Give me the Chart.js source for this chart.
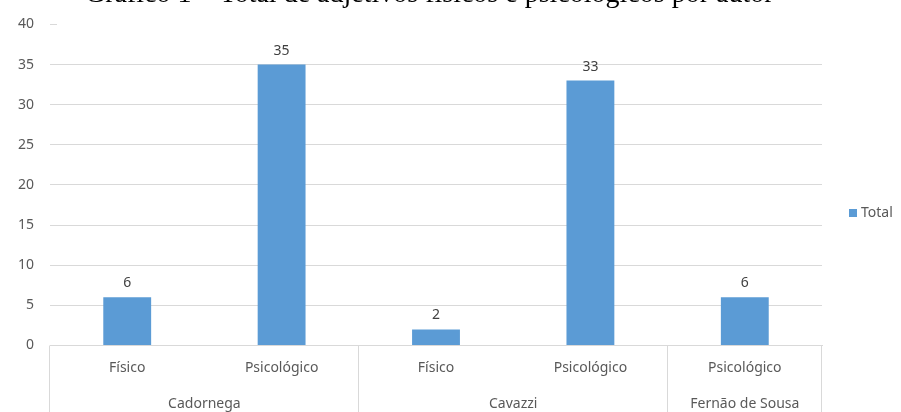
<!DOCTYPE html>
<html>
<head>
<meta charset="utf-8">
<script src="https://cdn.jsdelivr.net/npm/chart.js@4/dist/chart.umd.min.js"></script>
<style>
  html, body { margin: 0; padding: 0; background: #ffffff; }
  #wrap { width: 901px; height: 412px; position: relative; }
</style>
</head>
<body>
<div id="wrap"><canvas id="chart" width="901" height="412"></canvas></div>
<script>
// Adjective type counts per author
const subLabels = ['Físico', 'Psicológico', 'Físico', 'Psicológico', 'Psicológico'];
const groupNames = ['Cadornega', 'Cavazzi', 'Fernão de Sousa'];
const groupSizes = [2, 2, 1];
const totals = [6, 35, 2, 33, 6];
const yTicks = [0, 5, 10, 15, 20, 25, 30, 35, 40];
const seriesName = 'Total';
const titleText = 'Gráfico 1 – Total de adjetivos físicos e psicológicos por autor';

const FONT = '"Noto Sans", "Open Sans", sans-serif';
const GRID = '#d9d9d9';
const TEXT = '#595959';
const BAR = '#5b9bd5';

// Value labels, author names, legend key and the title strip
const extras = {
  id: 'extras',
  afterDraw(chart) {
    const ctx = chart.ctx;
    const x = chart.scales.x;
    const area = chart.chartArea;
    ctx.save();

    // bar values
    ctx.font = '14px ' + FONT;
    ctx.fillStyle = '#404040';
    ctx.textAlign = 'center';
    ctx.textBaseline = 'alphabetic';
    chart.getDatasetMeta(0).data.forEach((bar, i) => {
      ctx.fillText(String(totals[i]), bar.x, bar.y - 10);
    });

    // group separators and author names
    ctx.strokeStyle = GRID;
    ctx.lineWidth = 1;
    const step = x.getPixelForValue(1) - x.getPixelForValue(0);
    let start = 0;
    const edges = [];
    groupSizes.forEach((n, g) => {
      const left = x.getPixelForValue(start) - step / 2;
      const right = x.getPixelForValue(start + n - 1) + step / 2;
      edges.push(left, right);
      ctx.fillStyle = TEXT;
      ctx.font = '14px ' + FONT;
      ctx.textAlign = 'center';
      ctx.textBaseline = 'middle';
      ctx.fillText(groupNames[g], (left + right) / 2, area.bottom + 58.5);
      start += n;
    });
    [...new Set(edges.map(e => Math.round(e)))].forEach(px => {
      ctx.beginPath();
      ctx.moveTo(px - 0.5, area.bottom);
      ctx.lineTo(px - 0.5, chart.height);
      ctx.stroke();
    });

    // legend key
    const ds = chart.data.datasets[0];
    const ly = 213;
    ctx.fillStyle = ds.backgroundColor;
    ctx.fillRect(849, ly - 4, 8, 8);
    ctx.fillStyle = TEXT;
    ctx.font = '14px ' + FONT;
    ctx.textAlign = 'left';
    ctx.textBaseline = 'middle';
    ctx.fillText(ds.label, 861, ly);

    // title strip across the top edge
    ctx.fillStyle = '#ffffff';
    ctx.fillRect(57, 0, 780, area.top + 1.5);
    ctx.fillStyle = '#000000';
    ctx.font = '28px "Liberation Serif", "DejaVu Serif", serif';
    ctx.textAlign = 'left';
    ctx.textBaseline = 'alphabetic';
    ctx.fillText(titleText, 85, 1.5);
    ctx.restore();
  }
};

new Chart(document.getElementById('chart'), {
  type: 'bar',
  data: {
    labels: subLabels,
    datasets: [{
      label: seriesName,
      data: totals,
      backgroundColor: BAR,
      borderWidth: 0,
      barPercentage: 1,
      categoryPercentage: 0.31
    }]
  },
  options: {
    responsive: false,
    animation: false,
    layout: { padding: { top: 11.5, left: 2, right: 79, bottom: 0 } },
    plugins: {
      legend: { display: false },
      tooltip: { enabled: false },
      title: { display: false }
    },
    scales: {
      x: {
        grid: { display: false, drawTicks: false },
        border: { display: true, color: GRID },
        ticks: { color: TEXT, font: { family: FONT, size: 14 }, padding: 14, maxRotation: 0 },
        afterFit(scale) { scale.height = 66.5; }
      },
      y: {
        min: 0, max: 40,
        afterBuildTicks(scale) { scale.ticks = yTicks.map(v => ({ value: v })); },
        grid: { color: GRID, drawTicks: false },
        border: { display: false },
        ticks: { color: TEXT, font: { family: FONT, size: 14 }, padding: 16 }
      }
    }
  },
  plugins: [extras]
});
</script>
</body>
</html>
